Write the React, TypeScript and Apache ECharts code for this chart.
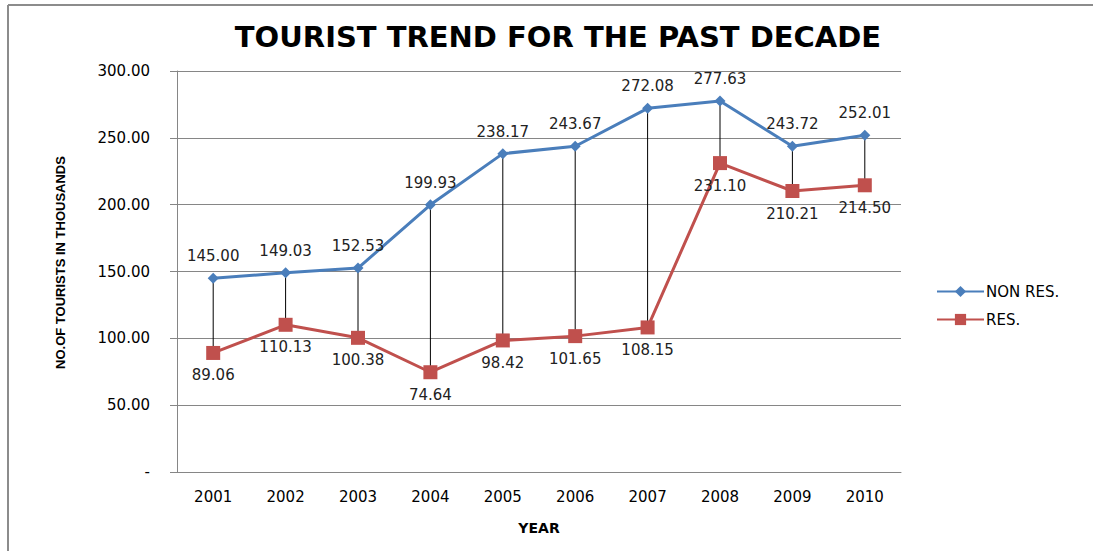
import React, { useEffect, useRef } from "react";
import * as echarts from "echarts";

const categories = ["2001", "2002", "2003", "2004", "2005", "2006", "2007", "2008", "2009", "2010"];
const nonRes = [145.0, 149.03, 152.53, 199.93, 238.17, 243.67, 272.08, 277.63, 243.72, 252.01];
const res = [89.06, 110.13, 100.38, 74.64, 98.42, 101.65, 108.15, 231.1, 210.21, 214.5];
const yTicks = { min: 0, max: 300, interval: 50 };

const FONT = "DejaVu Sans";

export default function App() {
  const ref = useRef<HTMLDivElement>(null);
  useEffect(() => {
    if (!ref.current) return;
    const chart = echarts.init(ref.current, undefined, { renderer: "svg" });
    const dropData = categories.map((c, i) => [i, nonRes[i], res[i]]);
    chart.setOption({
      animation: false,
      backgroundColor: "#ffffff",
      title: {
        text: "TOURIST TREND FOR THE PAST DECADE",
        left: 553,
        textAlign: "center",
        top: 17,
        textStyle: { fontFamily: FONT, fontWeight: "bold", fontSize: 29, color: "#000" },
      },
      graphic: [
        { type: "line", shape: { x1: 8, y1: 5, x2: 1093, y2: 5 }, style: { stroke: "#8c8c8c", lineWidth: 2 } },
        { type: "line", shape: { x1: 8, y1: 5, x2: 8, y2: 551 }, style: { stroke: "#8c8c8c", lineWidth: 2 } },
      ],
      legend: {
        orient: "vertical",
        left: 931,
        top: 279,
        itemWidth: 47,
        itemHeight: 14,
        itemGap: 13,
        textStyle: { fontFamily: FONT, fontSize: 15, color: "#000", padding: [0, 0, 0, -3] },
        data: ["NON RES.", "RES."],
      },
      grid: { left: 177, right: 192, top: 71, bottom: 79, containLabel: false },
      xAxis: {
        type: "category",
        data: categories,
        boundaryGap: true,
        name: "YEAR",
        nameLocation: "middle",
        nameGap: 49,
        nameTextStyle: { fontFamily: FONT, fontWeight: "bold", fontSize: 14, color: "#000" },
        axisLine: { lineStyle: { color: "#868686", width: 1 } },
        axisTick: { show: false },
        axisLabel: { fontFamily: FONT, fontSize: 15, color: "#000", margin: 17 },
      },
      yAxis: {
        type: "value",
        min: yTicks.min,
        max: yTicks.max,
        interval: yTicks.interval,
        name: "NO.OF TOURISTS IN THOUSANDS",
        nameLocation: "middle",
        nameRotate: 90,
        nameGap: 110,
        nameTextStyle: {
          fontFamily: "Liberation Sans",
          fontWeight: "bold",
          fontSize: 13,
          color: "#000",
          padding: [0, 0, 0, 18],
        },
        axisLine: { show: true, lineStyle: { color: "#868686", width: 1 } },
        axisTick: { show: true, length: 7, lineStyle: { color: "#868686" } },
        splitLine: { lineStyle: { color: "#868686", width: 1 } },
        axisLabel: {
          fontFamily: FONT,
          fontSize: 15,
          color: "#000",
          margin: 27,
          formatter: (v: number) => (v === 0 ? "-" : v.toFixed(2)),
        },
      },
      series: [
        {
          type: "custom",
          name: "drop",
          data: dropData,
          encode: { x: 0, y: [1, 2] },
          z: 1,
          silent: true,
          renderItem: (params: any, api: any) => {
            const p1 = api.coord([api.value(0), api.value(1)]);
            const p2 = api.coord([api.value(0), api.value(2)]);
            return {
              type: "line",
              shape: { x1: p1[0], y1: p1[1], x2: p2[0], y2: p2[1] },
              style: { stroke: "#000", lineWidth: 1 },
            };
          },
        },
        {
          type: "line",
          name: "NON RES.",
          data: nonRes,
          z: 3,
          color: "#4a7ebb",
          lineStyle: { color: "#4a7ebb", width: 3 },
          itemStyle: { color: "#4a7ebb" },
          symbol: "diamond",
          symbolSize: 11,
          label: {
            show: true,
            position: "top",
            distance: 9,
            fontFamily: FONT,
            fontSize: 15,
            color: "#222",
            formatter: (p: any) => p.value.toFixed(2),
          },
        },
        {
          type: "line",
          name: "RES.",
          data: res,
          z: 2,
          color: "#c0504d",
          lineStyle: { color: "#c0504d", width: 3 },
          itemStyle: { color: "#c0504d" },
          symbol: "rect",
          symbolSize: 14,
          label: {
            show: true,
            position: "bottom",
            distance: 8,
            fontFamily: FONT,
            fontSize: 15,
            color: "#222",
            formatter: (p: any) => p.value.toFixed(2),
          },
        },
      ],
    });
    return () => chart.dispose();
  }, []);
  return <div ref={ref} style={{ position: "absolute", left: 0, top: 0, width: 1093, height: 551 }} />;
}
